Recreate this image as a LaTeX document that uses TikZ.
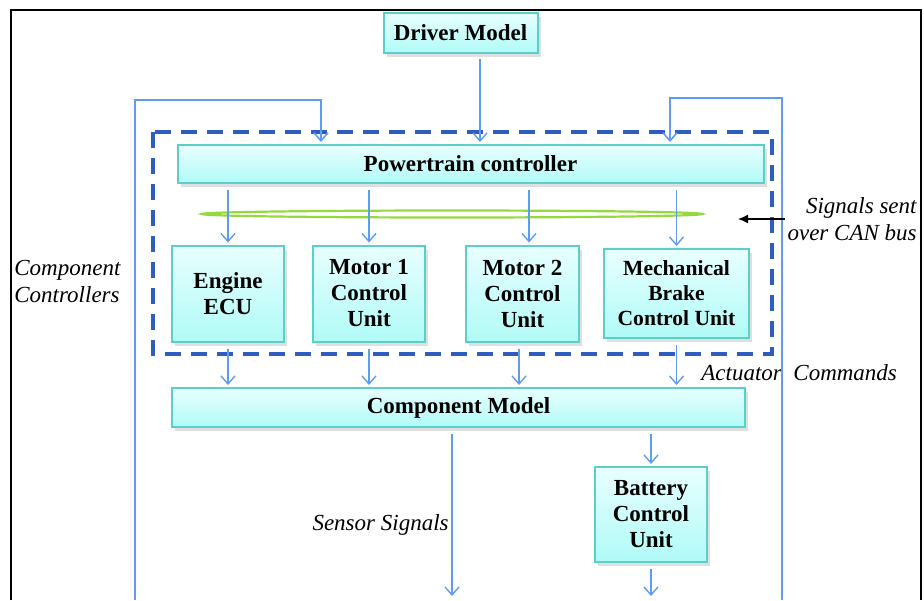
\documentclass[tikz,border=0pt]{standalone}
\usepackage{fontspec}
\setmainfont{Liberation Serif}
\usepackage{tikz}
\usetikzlibrary{arrows.meta,shapes.geometric,shadows}
\definecolor{boxtop}{HTML}{E8FFFF}
\definecolor{boxbottom}{HTML}{B0FBF7}
\definecolor{boxedge}{HTML}{5CCFCB}
\definecolor{linkblue}{HTML}{5E9CF2}
\definecolor{groupblue}{HTML}{2F5DBE}
\definecolor{busgreen}{HTML}{96D93C}
\newcommand{\blockfont}{\bfseries\fontsize{11.5}{13}\selectfont}
\newcommand{\smallblockfont}{\bfseries\fontsize{10.8}{12.5}\selectfont}
\newcommand{\remarkfont}{\itshape\fontsize{11.5}{13.5}\selectfont}
\tikzset{
  flow/.style={-{Straight Barb[length=4pt,width=7pt]}, line width=0.7pt, draw=linkblue,
               shorten <=3pt, shorten >=1pt},
  loopflow/.style={flow, line width=0.8pt, shorten <=0pt},
  note/.style={-{Latex[length=5pt,width=4.5pt]}, line width=0.7pt, draw=black},
  frameline/.style={line width=1.2pt, draw=black},
  groupframe/.style={line width=1.8pt, draw=groupblue, dash pattern=on 8pt off 5pt},
  canbus/.style={ellipse, draw=busgreen, line width=1.1pt, inner sep=0pt,
                 minimum width=250pt, minimum height=3.5pt},
  box/.style={draw=boxedge, line width=1pt, top color=boxtop, bottom color=boxbottom,
              align=center, inner sep=1pt, font=\blockfont,
              drop shadow={opacity=0.25, shadow xshift=1.5pt, shadow yshift=-2pt}},
  remark/.style={inner sep=1pt, font=\remarkfont}
}

\begin{document}
\begin{tikzpicture}[x=0.5pt, y=-0.5pt]
  \useasboundingbox (0,0) rectangle (924,600);
  \draw[frameline] (11,600) -- (11,10) -- (921,10) -- (921,600);

  \draw[groupframe] (153,132) rectangle (772,354);
  \node[canbus] (bus) at (452,214) {};

  \node[box, minimum width=77pt, minimum height=20pt] (driver) at (460.5,33) {Driver Model};
  \node[box, minimum width=293pt, minimum height=19pt] (powertrain) at (470.5,164) {Powertrain controller};

  \node[box, minimum width=56pt, minimum height=48pt] (engine) at (228,293.5) {Engine\\ECU};
  \node[box, minimum width=56pt, minimum height=48pt] (motorone) at (369,293.5) {Motor 1\\Control\\Unit};
  \node[box, minimum width=56.5pt, minimum height=48pt] (motortwo) at (522.5,293.5) {Motor 2\\Control\\Unit};
  \node[box, minimum width=72.5pt, minimum height=44.5pt, font=\smallblockfont] (brake) at (676.5,293.5) {Mechanical\\Brake\\Control Unit};

  \node[box, minimum width=286.5pt, minimum height=19.5pt] (component) at (458.5,407.5) {Component Model};
  \node[box, minimum width=56pt, minimum height=47.5pt] (battery) at (651,514.5) {Battery\\Control\\Unit};

  \node[remark, anchor=west, align=left] (ctrllabel) at (12,281) {Component\\Controllers};
  \node[remark, anchor=east, align=right] (canlabel) at (919,219) {Signals sent\\over CAN bus};
  \node[remark, anchor=west] (actlabel) at (699,373) {Actuator\hspace{0.5em}Commands};
  \node[remark, anchor=east] (sensorlabel) at (451,525) {Sensor Signals};

  \coordinate (driverout) at (480,53);
  \coordinate (leftfeed) at (135,600);
  \coordinate (leftturn) at (321,100);
  \coordinate (rightfeed) at (782,600);
  \coordinate (rightturn) at (670,98);
  \coordinate (motortwoin) at (529,243);
  \coordinate (motortwoout) at (519,342);
  \coordinate (bustip) at (738,219);
  \coordinate (sensorend) at (452,598);
  \coordinate (batteryend) at (651,598);

  \draw[flow] (driverout) -- (driverout |- powertrain.north);
  \draw[loopflow] (leftfeed) |- (leftturn) -- (leftturn |- powertrain.north);
  \draw[loopflow] (rightfeed) |- (rightturn) -- (rightturn |- powertrain.north);

  \draw[flow] (powertrain.south -| engine.north) -- (engine.north);
  \draw[flow] (powertrain.south -| motorone.north) -- (motorone.north);
  \draw[flow] (powertrain.south -| motortwoin) -- (motortwoin |- motortwo.north);
  \draw[flow] (powertrain.south -| brake.north) -- (brake.north);
  \draw[note] (canlabel.west) -- (bustip);

  \draw[flow] (engine.south) -- (engine.south |- component.north);
  \draw[flow] (motorone.south) -- (motorone.south |- component.north);
  \draw[flow] (motortwoout |- motortwo.south) -- (motortwoout |- component.north);
  \draw[flow] (brake.south) -- (brake.south |- component.north);

  \draw[flow] (component.south -| sensorend) -- (sensorend);
  \draw[flow] (component.south -| battery.north) -- (battery.north);
  \draw[flow] (battery.south) -- (batteryend);
\end{tikzpicture}
\end{document}
